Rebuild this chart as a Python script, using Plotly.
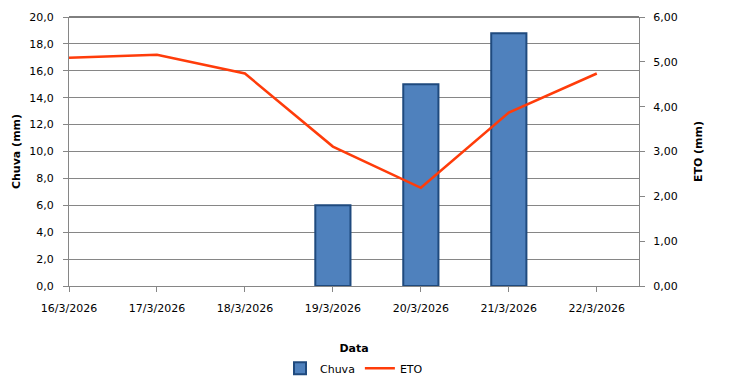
import plotly.graph_objects as go

datas = ["16/3/2026", "17/3/2026", "18/3/2026", "19/3/2026", "20/3/2026", "21/3/2026", "22/3/2026"]
chuva = [None, None, None, 6.0, 15.0, 18.8, None]
eto = [5.09, 5.16, 4.74, 3.11, 2.19, 3.87, 4.74]
idx = list(range(len(datas)))

font = "DejaVu Sans"
fs = 11
fig = go.Figure()
fig.add_trace(go.Bar(x=idx, y=chuva, name="Chuva", width=0.4,
                     marker=dict(color="#4F81BD", line=dict(color="#1F4A7E", width=2)),
                     yaxis="y"))
fig.add_trace(go.Scatter(x=idx, y=eto, name="ETO", mode="lines",
                         line=dict(color="#FF3C0A", width=2.5), yaxis="y2"))

fig.update_layout(
    width=734, height=395,
    margin=dict(l=69, r=95, t=17.4, b=102.3),
    paper_bgcolor="white", plot_bgcolor="white",
    separators=",.",
    font=dict(family=font, size=fs, color="black"),
    showlegend=True,
    legend=dict(orientation="h", x=0.5, xanchor="center", y=-0.252, yanchor="top",
                font=dict(size=fs), tracegroupgap=0),
    xaxis=dict(range=[0, 6.48], tickvals=idx, ticktext=datas, showgrid=False,
               showline=True, linecolor="#868686", linewidth=1, automargin=False,
               ticks="outside", ticklen=5, tickcolor="#868686", zeroline=False,
               ticklabelstandoff=7,
               title=dict(text="<b>Data</b>", font=dict(size=fs), standoff=30)),
    yaxis=dict(range=[0, 20], dtick=2, tickformat=".1f", showgrid=True, automargin=False,
               gridcolor="#868686", gridwidth=1, showline=True, linecolor="#868686",
               ticks="outside", ticklen=5, tickcolor="#868686", zeroline=False,
               ticklabelstandoff=7,
               title=dict(text="<b>Chuva (mm)</b>", font=dict(size=fs), standoff=5.5)),
    yaxis2=dict(range=[0, 6], dtick=1, tickformat=".2f", overlaying="y", side="right",
                showgrid=False, showline=True, linecolor="#868686", automargin=False,
                ticks="outside", ticklen=5, tickcolor="#868686", zeroline=False,
                ticklabelstandoff=6,
                title=dict(text="<b>ETO (mm)</b>", font=dict(size=fs), standoff=17)),
)
fig.add_shape(type="line", xref="paper", yref="paper", x0=0, x1=1, y0=1, y1=1,
              line=dict(color="black", width=1))
post = ("document.documentElement.style.margin='0';"
        "document.body.style.margin='0';"
        "document.documentElement.style.overflow='hidden';"
        "document.body.style.overflow='hidden';")
fig.write_html("out.html", config={"displayModeBar": False}, post_script=post)
